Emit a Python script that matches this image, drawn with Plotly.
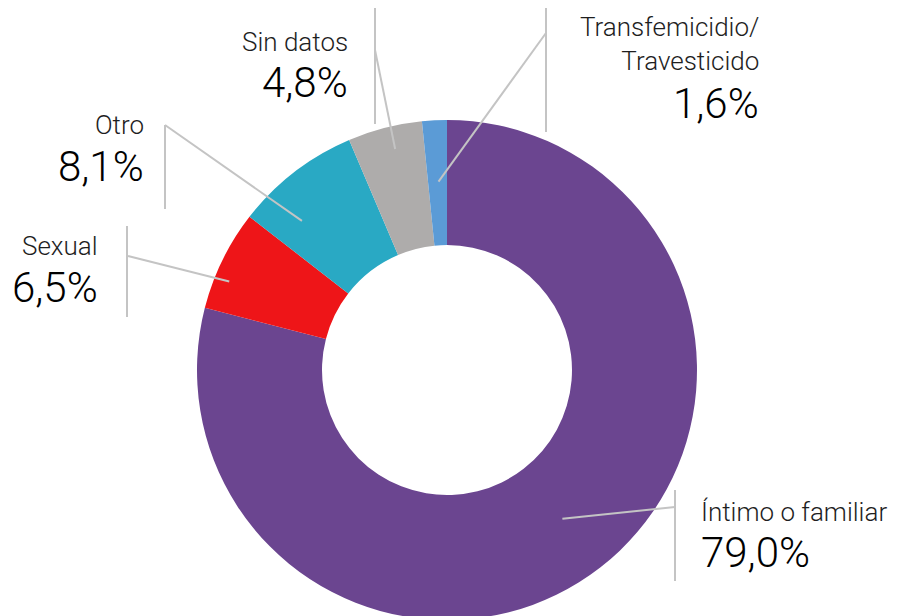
import math
import plotly.graph_objects as go

# ---- data ----
categories = ["Íntimo o familiar", "Sexual", "Otro", "Sin datos", "Transfemicidio/<br>Travesticido"]
values = [79.0, 6.5, 8.1, 4.8, 1.6]
pct_labels = ["79,0%", "6,5%", "8,1%", "4,8%", "1,6%"]
colors = ["#6B4590", "#EE1518", "#29A9C4", "#AEACAB", "#5B9BD6"]

W, H = 898, 616
OFF = 8  # page body margin
CX, CY, R = 447, 370, 250  # window-pixel geometry of donut

def px(x):
    return (x - OFF) / W

def py(y):
    return 1 - (y - OFF) / H

fig = go.Figure(go.Pie(
    labels=categories, values=values, sort=False, direction="clockwise",
    rotation=0, hole=0.5, textinfo="none", hoverinfo="label+percent",
    marker=dict(colors=colors, line=dict(width=0)),
    domain=dict(x=[px(CX - R), px(CX + R)], y=[py(CY + R), py(CY - R)]),
))

# leader-line styling (radius fraction, angle nudge in degrees, window-pixel callout positions)
leader_r = [0.753, 0.94, 0.832, 0.908, 0.754]
leader_da = [0.0, -4.0, -6.6, 1.2, 0.3]
elbow = [(675, 507), (128, 256), (165, 125), (375, 50), (546, 33)]
vlines = [(675, 490, 581), (127, 226, 317), (165, 125, 209), (375, 8, 124), (546, 8, 132)]
label_pos = [(699, 512, "left"), (100, 246, "right"), (146, 125, "right"),
             (350, 42, "right"), (761, 44, "right")]
pct_pos = [(699, 552), (100, 287), (146, 166), (350, 83), (761, 103)]

shapes = []
annotations = []
total = sum(values)
cum = 0.0
line_col = "#C4C4C4"
for i, v in enumerate(values):
    mid = (cum + v / 2) / total * 2 * math.pi + math.radians(leader_da[i])
    cum += v
    r = leader_r[i] * R
    sx = CX + r * math.sin(mid)
    sy = CY - r * math.cos(mid)
    ex, ey = elbow[i]
    shapes.append(dict(type="line", xref="paper", yref="paper",
                       x0=px(sx), y0=py(sy), x1=px(ex), y1=py(ey),
                       line=dict(color=line_col, width=2)))
    vx, vy0, vy1 = vlines[i]
    shapes.append(dict(type="line", xref="paper", yref="paper",
                       x0=px(vx), y0=py(vy0), x1=px(vx), y1=py(vy1),
                       line=dict(color=line_col, width=2)))
    lx, ly, al = label_pos[i]
    annotations.append(dict(x=px(lx), y=py(ly), xref="paper", yref="paper",
                            text=categories[i], showarrow=False,
                            xanchor=al, yanchor="middle", align=al,
                            font=dict(family="Roboto", size=26, color="#1E1E1E", weight=300)))
    qx, qy = pct_pos[i]
    annotations.append(dict(x=px(qx), y=py(qy), xref="paper", yref="paper",
                            text=pct_labels[i], showarrow=False,
                            xanchor=al, yanchor="middle",
                            font=dict(family="Roboto", size=42, color="#000000", weight=300)))

fig.update_layout(
    width=W, height=H, autosize=False,
    margin=dict(l=0, r=0, t=0, b=0),
    paper_bgcolor="white", plot_bgcolor="white",
    showlegend=False,
    shapes=shapes, annotations=annotations,
)

fig.write_html("out.html")
